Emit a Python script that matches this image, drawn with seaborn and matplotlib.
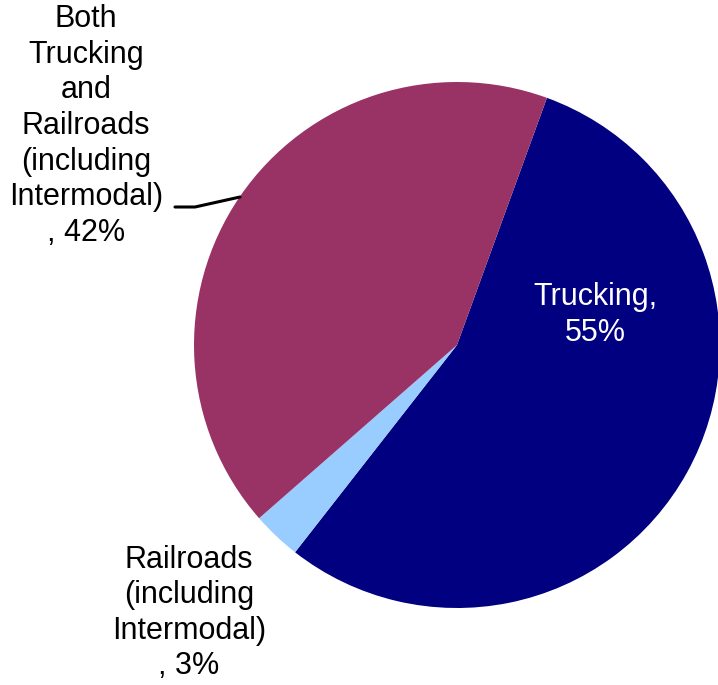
import matplotlib
matplotlib.use("Agg")
import matplotlib.pyplot as plt
import seaborn as sns

sns.set_theme(style="white")
plt.rcParams['font.family'] = ['Liberation Sans', 'DejaVu Sans']

categories = ["Trucking", "Railroads\n(including\nIntermodal)", "Both\nTrucking\nand\nRailroads\n(including\nIntermodal)"]
shares = [55, 3, 42]
colors = ["#000080", "#99CCFF", "#993366"]

W, H = 718, 685
fig = plt.figure(figsize=(W / 100, H / 100), dpi=100)
ax = fig.add_axes([0, 0, 1, 1])

cx, cy, r = 457, 340, 263
ax.pie(shares, colors=colors, startangle=70, counterclock=False,
       center=(cx, cy), radius=r, frame=True,
       wedgeprops=dict(linewidth=0))
ax.set_xlim(0, W)
ax.set_ylim(0, H)
ax.set_aspect("equal")
ax.axis("off")

fs = 22
ls = 1.24
ax.text(595, H - 315, f"{categories[0]},\n{shares[0]}%", color="white",
        ha="center", va="center", fontsize=fs, linespacing=ls)
ax.text(189, H - 613, f"{categories[1]}\n, {shares[1]}%", color="black",
        ha="center", va="center", fontsize=fs, linespacing=ls)
ax.text(86, H - 126, f"{categories[2]}\n, {shares[2]}%", color="black",
        ha="center", va="center", fontsize=fs, linespacing=ls)

# leader line for the "Both" label
ax.plot([175, 195, 240], [H - 207, H - 207, H - 197], color="black", linewidth=2.2)

fig.savefig("out.png", dpi=100)
